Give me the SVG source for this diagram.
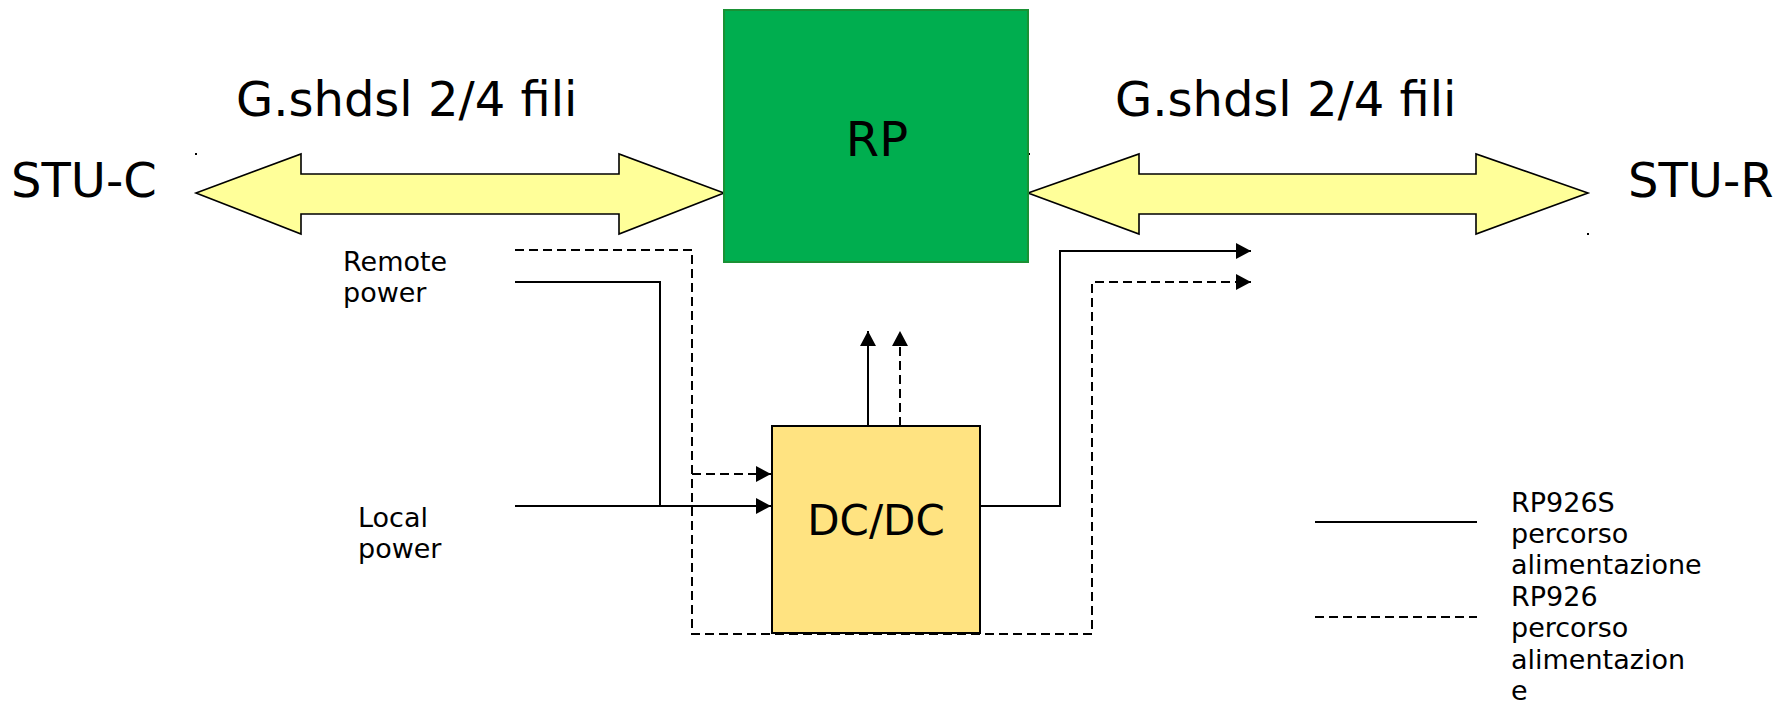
<svg xmlns="http://www.w3.org/2000/svg" width="1788" height="704" viewBox="0 0 1788 704">
<defs>
<style>
text{font-family:"DejaVu Sans","Liberation Sans",sans-serif;fill:#000}
.big{font-size:48px}
.sm{font-size:27px}
.ln{fill:none;stroke:#000;stroke-width:2}
.dash{stroke-dasharray:9 5}
.dbl{fill:#FFFF99;stroke:#000;stroke-width:1.6;stroke-linejoin:miter}
</style>
<marker id="ah" markerUnits="userSpaceOnUse" markerWidth="16" markerHeight="16" viewBox="0 0 15 16" refX="15" refY="8" orient="auto">
<path d="M0,0 L15,8 L0,16 Z" fill="#000"/>
</marker>
</defs>
<rect width="1788" height="704" fill="#fff"/>

<g id="links">
<polygon class="dbl" points="196,193 301,154 301,174 619,174 619,154 724,193 619,234 619,214 301,214 301,234"/>
<polygon class="dbl" points="1028,193 1139,154 1139,174 1476,174 1476,154 1588,193 1476,234 1476,214 1139,214 1139,234"/>
<polyline class="ln dash" points="515,250 692,250 692,634 1092,634 1092,282 1251,282" marker-end="url(#ah)"/>
<polyline class="ln dash" points="692,474 771,474" marker-end="url(#ah)"/>
<polyline class="ln" points="515,282 660,282 660,506"/>
<polyline class="ln" points="515,506 771,506" marker-end="url(#ah)"/>
<polyline class="ln" points="980,506 1060,506 1060,251 1251,251" marker-end="url(#ah)"/>
<polyline class="ln" points="868,426 868,331" marker-end="url(#ah)"/>
<polyline class="ln dash" points="900,426 900,331" marker-end="url(#ah)"/>
<rect x="195" y="153" width="2" height="2" fill="#000"/>
<rect x="1028" y="153" width="2" height="2" fill="#000"/>
<rect x="1587" y="233" width="2" height="2" fill="#000"/>
</g>

<g id="rp">
<rect x="724" y="10" width="304" height="252" fill="#00AE4F" stroke="#1A9135" stroke-width="2"/>
<text class="big" x="877" y="156" text-anchor="middle">RP</text>
</g>

<g id="dcdc">
<rect x="772" y="426" width="208" height="207" fill="#FFE381" stroke="#000" stroke-width="2"/>
<text x="876" y="535" text-anchor="middle" style="font-size:42px">DC/DC</text>
</g>

<g id="stu-c"><text class="big" x="11" y="197">STU-C</text></g>
<g id="stu-r"><text class="big" x="1628" y="197">STU-R</text></g>
<g id="label-left"><text class="big" x="236" y="116">G.shdsl 2/4 fili</text></g>
<g id="label-right"><text class="big" x="1115" y="116">G.shdsl 2/4 fili</text></g>

<g id="remote-power">
<text class="sm" x="343" y="271">Remote</text>
<text class="sm" x="343" y="302">power</text>
</g>
<g id="local-power">
<text class="sm" x="358" y="527">Local</text>
<text class="sm" x="358" y="558">power</text>
</g>

<g id="legend">
<line class="ln" x1="1315" y1="522" x2="1477" y2="522"/>
<line class="ln dash" x1="1315" y1="617" x2="1477" y2="617"/>
<text class="sm" x="1511" y="512">RP926S</text>
<text class="sm" x="1511" y="543">percorso</text>
<text class="sm" x="1511" y="574">alimentazione</text>
<text class="sm" x="1511" y="606">RP926</text>
<text class="sm" x="1511" y="637">percorso</text>
<text class="sm" x="1511" y="669">alimentazion</text>
<text class="sm" x="1511" y="700">e</text>
</g>
</svg>
